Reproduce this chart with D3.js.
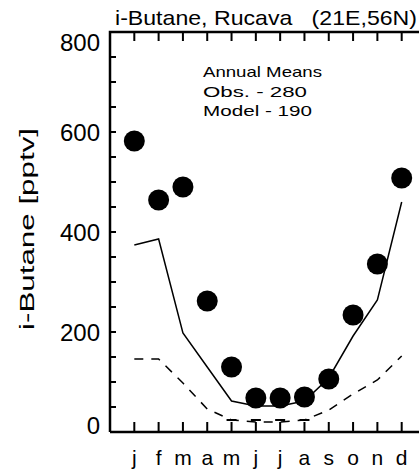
<!DOCTYPE html>
<html>
<head>
<meta charset="utf-8">
<script src="https://cdn.jsdelivr.net/npm/d3@7"></script>
<style>
  html, body { margin: 0; padding: 0; background: #fff; }
  svg { display: block; }
  text { font-family: "Liberation Sans", Arial, sans-serif; fill: #000; white-space: pre; }
</style>
</head>
<body>
<svg id="chart" width="419" height="473"></svg>
<script>
// ---- data ----
const months = ["j","f","m","a","m","j","j","a","s","o","n","d"];
const obsValues = [582, 464, 490, 262, 130, 68, 68, 70, 106, 234, 336, 508];
const modelValues = [374, 386, 198, 130, 62, 52, 52, 62, 108, 192, 264, 460];
const modelLowValues = [146, 146, 98, 46, 24, 20, 20, 24, 44, 76, 104, 152];
const capMonths = [5, 6, 7, 8];
const capValues = [24, 24, 24, 24];
const yTicks = [0, 200, 400, 600, 800];
const yMinorTicks = d3.range(0, 801, 50);
const titleText = "i-Butane, Rucava   (21E,56N)";
const yLabelText = "i-Butane [pptv]";
const noteLines = ["Annual Means", "Obs. - 280", "Model - 190"];

// ---- layout ----
const svg = d3.select("#chart");
const L = 110, R = 426, T = 32, B = 432;
const x = d3.scaleLinear().domain([0, 13]).range([L, R]);
const y = d3.scaleLinear().domain([0, 800]).range([B, T]);
const idx = d3.range(1, 13);

// title
svg.append("text").attr("x", 115).attr("y", 25)
  .attr("xml:space", "preserve")
  .attr("font-size", 21).attr("textLength", 302).attr("lengthAdjust", "spacingAndGlyphs")
  .text(titleText);

// y label
svg.append("text")
  .attr("transform", "translate(34,229) rotate(-90)")
  .attr("text-anchor", "middle").attr("font-size", 20)
  .attr("textLength", 202).attr("lengthAdjust", "spacingAndGlyphs")
  .text(yLabelText);

// annotation
const noteX = [119, 104, 109];
svg.selectAll("text.note").data(noteLines).join("text")
  .attr("class", "note")
  .attr("x", 203).attr("y", (d, i) => 77 + i * 19.5)
  .attr("font-size", 15)
  .attr("textLength", (d, i) => noteX[i]).attr("lengthAdjust", "spacingAndGlyphs")
  .text(d => d);

// frame
const frame = d3.path();
frame.moveTo(L, B); frame.lineTo(L, T); frame.lineTo(R, T);
frame.moveTo(L, B); frame.lineTo(R, B);
svg.append("path").attr("d", frame.toString())
  .attr("fill", "none").attr("stroke", "#000").attr("stroke-width", 2.5);

// ticks as filled rectangles
const tickW = 2;
yMinorTicks.forEach(v => {
  svg.append("rect").attr("x", L).attr("y", y(v) - tickW / 2)
    .attr("width", 6).attr("height", tickW).attr("fill", "#000");
});
idx.forEach(m => {
  svg.append("rect").attr("x", x(m) - tickW / 2).attr("y", B - 10)
    .attr("width", tickW).attr("height", 10).attr("fill", "#000");
  svg.append("rect").attr("x", x(m) - tickW / 2).attr("y", T)
    .attr("width", tickW).attr("height", 9).attr("fill", "#000");
});

// y tick labels
svg.selectAll("text.ylab").data(yTicks).join("text")
  .attr("class", "ylab")
  .attr("x", 100)
  .attr("y", d => Math.min(Math.max(y(d), T + 10), B - 7))
  .attr("dy", "0.36em")
  .attr("text-anchor", "end").attr("font-size", 24)
  .text(d => d);

// month labels
svg.selectAll("text.mlab").data(months).join("text")
  .attr("class", "mlab")
  .attr("x", (d, i) => x(i + 1)).attr("y", 465)
  .attr("text-anchor", "middle").attr("font-size", 21)
  .text(d => d);

// model lines
const line = d3.line().x((d, i) => x(i + 1)).y(d => y(d));
svg.append("path").attr("d", line(modelValues))
  .attr("fill", "none").attr("stroke", "#000").attr("stroke-width", 1.5);
svg.append("path").attr("d", line(modelLowValues))
  .attr("fill", "none").attr("stroke", "#000").attr("stroke-width", 1.5)
  .attr("stroke-dasharray", "9,8");

// caps
capMonths.forEach((m, i) => {
  svg.append("rect").attr("x", x(m) - 5).attr("y", y(capValues[i]) - 1)
    .attr("width", 10).attr("height", 2).attr("fill", "#000");
});

// observations
svg.selectAll("circle.obs").data(obsValues).join("circle")
  .attr("class", "obs")
  .attr("cx", (d, i) => x(i + 1)).attr("cy", d => y(d))
  .attr("r", 10.5).attr("fill", "#000");
</script>
</body>
</html>
